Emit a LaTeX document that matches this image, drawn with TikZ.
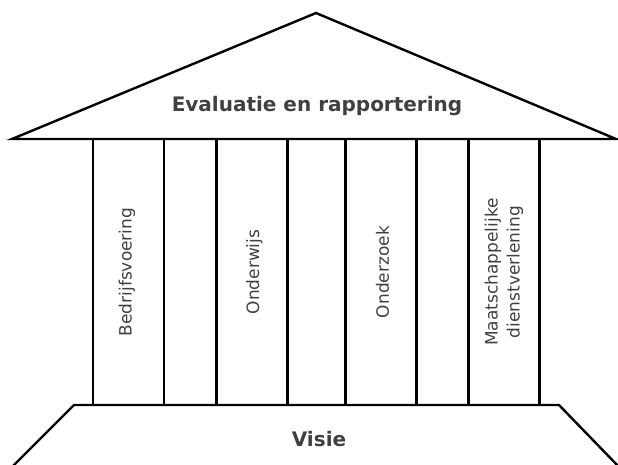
\documentclass[tikz,border=0pt]{standalone}
\usepackage{fontspec}
\setmainfont{DejaVu Sans}
\usetikzlibrary{calc}
\definecolor{labelgray}{HTML}{404040}
\begin{document}
\begin{tikzpicture}[x=1pt,y=-1pt,
  outline/.style={draw=black,line width=2.4pt,line join=miter},
  pillar/.style={outline,rectangle,minimum width=71pt,minimum height=266pt,inner sep=0pt},
  pillartext/.style={text=labelgray,font=\fontsize{17}{22}\selectfont,rotate=90,align=center},
  title/.style={text=labelgray,font=\fontsize{20}{24}\selectfont\bfseries,anchor=base}]
  \useasboundingbox (0,0) rectangle (618,464);
  \begin{scope}
    \clip (0,0) rectangle (618,464);
    % roof
    \coordinate (apex) at (316,13);
    \coordinate (roofL) at (12,139);
    \coordinate (roofR) at (616,139);
    \draw[outline] (roofL) -- (apex) -- (roofR) -- cycle;
    \node[title] (roof) at (317,111.5) {Evaluatie en rapportering};
    % pillars
    \node[pillar] (p1) at (128.5,272) {};
    \node[pillar] (p2) at (252,272) {};
    \node[pillar] (p3) at (381,272) {};
    \node[pillar] (p4) at (504,272) {};
    \node[pillartext] (t1) at ($(p1)+(-1.5,0)$) {Bedrijfsvoering};
    \node[pillartext] (t2) at ($(p2)+(2.5,0)$) {Onderwijs};
    \node[pillartext] (t3) at ($(p3)+(1.5,0)$) {Onderzoek};
    \node[pillartext] (t4) at (p4) {Maatschappelijke\\dienstverlening};
    % foundation
    \coordinate (baseTL) at (74,405);
    \coordinate (baseTR) at (559,405);
    \coordinate (baseBL) at (15,464);
    \coordinate (baseBR) at (616,464);
    \draw[outline] ($(baseBL)+(-5,5)$) -- (baseTL) -- (baseTR) -- ($(baseBR)+(5,5)$);
    \node[title] (base) at (319,446) {Visie};
  \end{scope}
\end{tikzpicture}
\end{document}
